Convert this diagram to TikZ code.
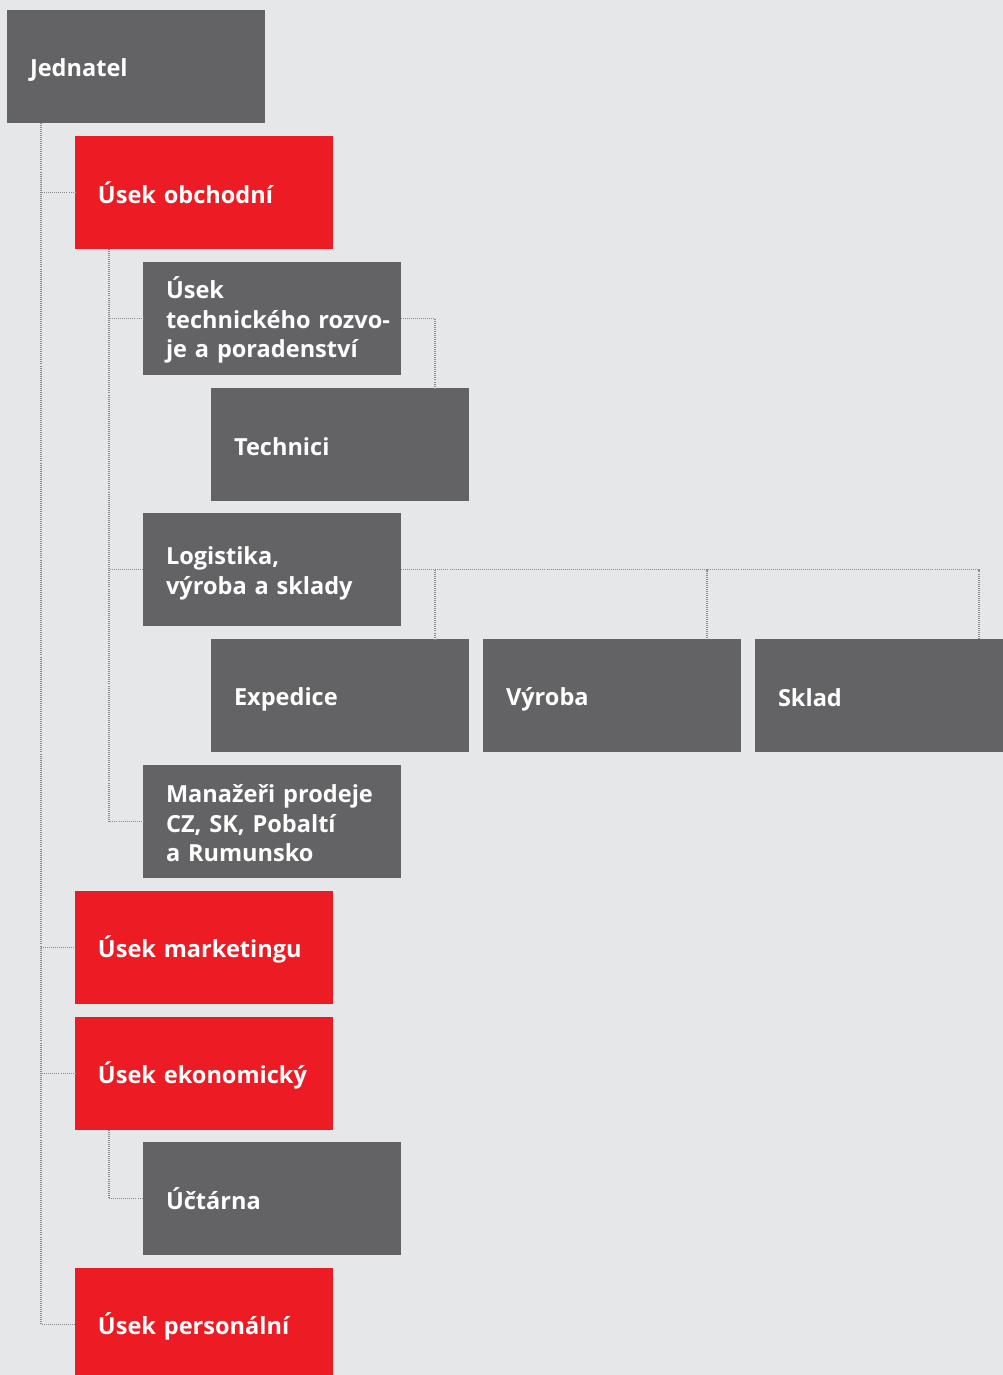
\documentclass[tikz,border=0pt]{standalone}
\usepackage{fontspec}
\setmainfont{Open Sans}
\usetikzlibrary{positioning}
\definecolor{bggrey}{RGB}{230,231,233}
\definecolor{boxgrey}{RGB}{99,99,101}
\definecolor{boxred}{RGB}{237,28,36}
\definecolor{dotgrey}{RGB}{140,140,140}
\newcommand{\boxstrut}{\rule[-2.3pt]{0pt}{16.7pt}}
\newcommand{\boxfont}{\fontsize{13.4}{16.7}\selectfont\bfseries\setlength{\lineskiplimit}{-20pt}}

\begin{document}
\begin{tikzpicture}[
		box/.style={rectangle, minimum width=5.16cm, minimum height=2.26cm,
			text width=4.24cm, inner xsep=0.46cm, inner ysep=0pt, outer sep=0pt,
			align=left, text=white, font=\boxfont,
			execute at begin node=\boxstrut, execute at end node=\boxstrut},
		greybox/.style={box, fill=boxgrey},
		redbox/.style={box, fill=boxred},
		conn/.style={dotgrey, line width=0.6pt, dash pattern=on 0.55pt off 0.6pt}
		]
		
		\useasboundingbox (-0.14,0.20) rectangle (19.92,-27.30);
		\clip (-0.14,0.20) rectangle (19.92,-27.30);
		\fill[bggrey] (-0.14,0.20) rectangle (19.92,-27.30);
		
		\node[greybox, anchor=north west](jed) at (0,0){Jednatel};
		\node[redbox, below=0.26cm of jed.south west, anchor=north west, xshift=1.36cm](obch){Úsek obchodní};
		\node[greybox, below=0.26cm of obch.south west, anchor=north west, xshift=1.36cm](tech){Úsek\\ \mbox{technického rozvo-}\\ je a poradenství};
		\node[greybox, below=0.26cm of tech.south west, anchor=north west, xshift=1.36cm](techn){Technici};
		\node[greybox, below=0.24cm of techn.south west, anchor=north west, xshift=-1.36cm](logi){Logistika,\\ výroba a sklady};
		\node[greybox, below=0.26cm of logi.south west, anchor=north west, xshift=1.36cm](exped){Expedice};
		\node[greybox, right=0.28cm of exped](vyr){Výroba};
		\node[greybox, right=0.28cm of vyr](sklad){Sklad};
		\node[greybox, below=0.26cm of exped.south west, anchor=north west, xshift=-1.36cm](man){\mbox{Manažeři prodeje}\\ CZ, SK, Pobaltí\\ a~Rumunsko};
		\node[redbox, below=0.26cm of man.south west, anchor=north west, xshift=-1.36cm](mark){Úsek marketingu};
		\node[redbox, below=0.26cm of mark.south west, anchor=north west](ekon){Úsek ekonomický};
		\node[greybox, below=0.24cm of ekon.south west, anchor=north west, xshift=1.36cm](uct){Účtárna};
		\node[redbox, below=0.26cm of uct.south west, anchor=north west, xshift=-1.36cm](pers){Úsek personální};
		
		% dotted links
		\foreach \n in {obch, mark, ekon, pers}
			\draw[conn] ([xshift=0.68cm]jed.south west) |- (\n.west);
		\foreach \n in {tech, logi, man}
			\draw[conn] ([xshift=0.68cm]obch.south west) |- (\n.west);
		\draw[conn] ([xshift=0.68cm]ekon.south west) |- (uct.west);
		\draw[conn] (tech.east) -| ([xshift=-0.68cm]techn.north east);
		\foreach \n in {exped, vyr, sklad}
			\draw[conn] (logi.east) -| ([xshift=-0.68cm]\n.north east);
	\end{tikzpicture}
\end{document}
